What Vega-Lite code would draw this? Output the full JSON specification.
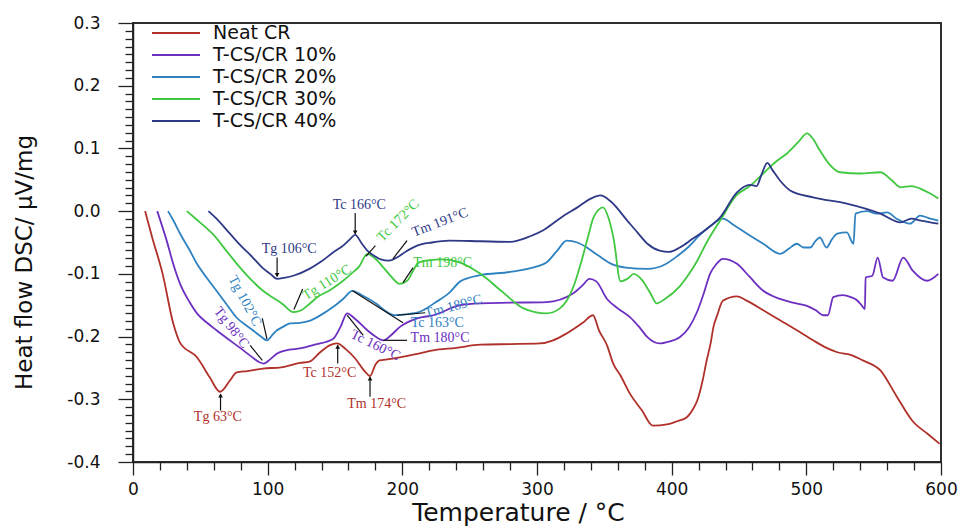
{
  "$schema": "https://vega.github.io/schema/vega-lite/v6.json",
  "width": 808,
  "height": 439,
  "autosize": {"type": "none"},
  "padding": {"left": 133, "top": 23, "right": 20, "bottom": 67},
  "background": "white",
  "config": {
    "view": {"stroke": "#222", "strokeWidth": 1.5},
    "axis": {"domainColor": "#222", "tickColor": "#222", "domainWidth": 1.5, "tickWidth": 1.3, "grid": false, "labelColor": "#111", "titleColor": "#111"}
  },
  "datasets": {
    "curves": [
      {"series": "Neat CR", "t": 9, "q": 0.0},
      {"series": "Neat CR", "t": 14, "q": -0.04},
      {"series": "Neat CR", "t": 22, "q": -0.10},
      {"series": "Neat CR", "t": 30, "q": -0.18},
      {"series": "Neat CR", "t": 35, "q": -0.21},
      {"series": "Neat CR", "t": 47.5, "q": -0.233},
      {"series": "Neat CR", "t": 57, "q": -0.265},
      {"series": "Neat CR", "t": 64.6, "q": -0.288},
      {"series": "Neat CR", "t": 72, "q": -0.27},
      {"series": "Neat CR", "t": 77, "q": -0.257},
      {"series": "Neat CR", "t": 85, "q": -0.255},
      {"series": "Neat CR", "t": 96.5, "q": -0.251},
      {"series": "Neat CR", "t": 110, "q": -0.249},
      {"series": "Neat CR", "t": 124, "q": -0.242},
      {"series": "Neat CR", "t": 131, "q": -0.240},
      {"series": "Neat CR", "t": 139, "q": -0.225},
      {"series": "Neat CR", "t": 146, "q": -0.214},
      {"series": "Neat CR", "t": 151.5, "q": -0.211},
      {"series": "Neat CR", "t": 158, "q": -0.22},
      {"series": "Neat CR", "t": 165, "q": -0.235},
      {"series": "Neat CR", "t": 172, "q": -0.255},
      {"series": "Neat CR", "t": 176, "q": -0.263},
      {"series": "Neat CR", "t": 180, "q": -0.245},
      {"series": "Neat CR", "t": 183, "q": -0.238},
      {"series": "Neat CR", "t": 190, "q": -0.236},
      {"series": "Neat CR", "t": 198, "q": -0.233},
      {"series": "Neat CR", "t": 210, "q": -0.228},
      {"series": "Neat CR", "t": 223, "q": -0.222},
      {"series": "Neat CR", "t": 240, "q": -0.218},
      {"series": "Neat CR", "t": 258, "q": -0.213},
      {"series": "Neat CR", "t": 280, "q": -0.212},
      {"series": "Neat CR", "t": 302, "q": -0.211},
      {"series": "Neat CR", "t": 312, "q": -0.206},
      {"series": "Neat CR", "t": 322, "q": -0.195},
      {"series": "Neat CR", "t": 334, "q": -0.178},
      {"series": "Neat CR", "t": 341.6, "q": -0.166},
      {"series": "Neat CR", "t": 346, "q": -0.19},
      {"series": "Neat CR", "t": 352, "q": -0.214},
      {"series": "Neat CR", "t": 356.6, "q": -0.243},
      {"series": "Neat CR", "t": 362, "q": -0.262},
      {"series": "Neat CR", "t": 369, "q": -0.291},
      {"series": "Neat CR", "t": 378, "q": -0.318},
      {"series": "Neat CR", "t": 386, "q": -0.342},
      {"series": "Neat CR", "t": 396.5, "q": -0.34},
      {"series": "Neat CR", "t": 404, "q": -0.335},
      {"series": "Neat CR", "t": 411, "q": -0.329},
      {"series": "Neat CR", "t": 416, "q": -0.315},
      {"series": "Neat CR", "t": 419, "q": -0.302},
      {"series": "Neat CR", "t": 423, "q": -0.27},
      {"series": "Neat CR", "t": 426, "q": -0.238},
      {"series": "Neat CR", "t": 429, "q": -0.21},
      {"series": "Neat CR", "t": 431, "q": -0.185},
      {"series": "Neat CR", "t": 434, "q": -0.165},
      {"series": "Neat CR", "t": 438, "q": -0.143},
      {"series": "Neat CR", "t": 448.5, "q": -0.136},
      {"series": "Neat CR", "t": 456, "q": -0.143},
      {"series": "Neat CR", "t": 468, "q": -0.158},
      {"series": "Neat CR", "t": 480.5, "q": -0.174},
      {"series": "Neat CR", "t": 493, "q": -0.19},
      {"series": "Neat CR", "t": 505, "q": -0.206},
      {"series": "Neat CR", "t": 515, "q": -0.218},
      {"series": "Neat CR", "t": 523, "q": -0.225},
      {"series": "Neat CR", "t": 534, "q": -0.23},
      {"series": "Neat CR", "t": 542, "q": -0.238},
      {"series": "Neat CR", "t": 555, "q": -0.254},
      {"series": "Neat CR", "t": 567, "q": -0.295},
      {"series": "Neat CR", "t": 579, "q": -0.335},
      {"series": "Neat CR", "t": 590, "q": -0.355},
      {"series": "Neat CR", "t": 599, "q": -0.371},

      {"series": "T-CS/CR 10%", "t": 18, "q": 0.0},
      {"series": "T-CS/CR 10%", "t": 25, "q": -0.047},
      {"series": "T-CS/CR 10%", "t": 30, "q": -0.085},
      {"series": "T-CS/CR 10%", "t": 35, "q": -0.116},
      {"series": "T-CS/CR 10%", "t": 42, "q": -0.145},
      {"series": "T-CS/CR 10%", "t": 47.5, "q": -0.163},
      {"series": "T-CS/CR 10%", "t": 55, "q": -0.178},
      {"series": "T-CS/CR 10%", "t": 62, "q": -0.19},
      {"series": "T-CS/CR 10%", "t": 70, "q": -0.203},
      {"series": "T-CS/CR 10%", "t": 79.5, "q": -0.218},
      {"series": "T-CS/CR 10%", "t": 88, "q": -0.232},
      {"series": "T-CS/CR 10%", "t": 94, "q": -0.241},
      {"series": "T-CS/CR 10%", "t": 97, "q": -0.243},
      {"series": "T-CS/CR 10%", "t": 102, "q": -0.236},
      {"series": "T-CS/CR 10%", "t": 107, "q": -0.227},
      {"series": "T-CS/CR 10%", "t": 116, "q": -0.221},
      {"series": "T-CS/CR 10%", "t": 124, "q": -0.219},
      {"series": "T-CS/CR 10%", "t": 135, "q": -0.213},
      {"series": "T-CS/CR 10%", "t": 148.5, "q": -0.204},
      {"series": "T-CS/CR 10%", "t": 154, "q": -0.185},
      {"series": "T-CS/CR 10%", "t": 159, "q": -0.163},
      {"series": "T-CS/CR 10%", "t": 165, "q": -0.172},
      {"series": "T-CS/CR 10%", "t": 174, "q": -0.19},
      {"series": "T-CS/CR 10%", "t": 180, "q": -0.2},
      {"series": "T-CS/CR 10%", "t": 186, "q": -0.206},
      {"series": "T-CS/CR 10%", "t": 192, "q": -0.197},
      {"series": "T-CS/CR 10%", "t": 198, "q": -0.185},
      {"series": "T-CS/CR 10%", "t": 211, "q": -0.171},
      {"series": "T-CS/CR 10%", "t": 223, "q": -0.166},
      {"series": "T-CS/CR 10%", "t": 243, "q": -0.150},
      {"series": "T-CS/CR 10%", "t": 258, "q": -0.147},
      {"series": "T-CS/CR 10%", "t": 280, "q": -0.146},
      {"series": "T-CS/CR 10%", "t": 307, "q": -0.145},
      {"series": "T-CS/CR 10%", "t": 327, "q": -0.131},
      {"series": "T-CS/CR 10%", "t": 334, "q": -0.118},
      {"series": "T-CS/CR 10%", "t": 339, "q": -0.108},
      {"series": "T-CS/CR 10%", "t": 344, "q": -0.112},
      {"series": "T-CS/CR 10%", "t": 352, "q": -0.14},
      {"series": "T-CS/CR 10%", "t": 360, "q": -0.155},
      {"series": "T-CS/CR 10%", "t": 369, "q": -0.169},
      {"series": "T-CS/CR 10%", "t": 376, "q": -0.185},
      {"series": "T-CS/CR 10%", "t": 382, "q": -0.201},
      {"series": "T-CS/CR 10%", "t": 391, "q": -0.211},
      {"series": "T-CS/CR 10%", "t": 398, "q": -0.208},
      {"series": "T-CS/CR 10%", "t": 406, "q": -0.201},
      {"series": "T-CS/CR 10%", "t": 413, "q": -0.185},
      {"series": "T-CS/CR 10%", "t": 419, "q": -0.16},
      {"series": "T-CS/CR 10%", "t": 424, "q": -0.13},
      {"series": "T-CS/CR 10%", "t": 428.5, "q": -0.1},
      {"series": "T-CS/CR 10%", "t": 433, "q": -0.085},
      {"series": "T-CS/CR 10%", "t": 438, "q": -0.076},
      {"series": "T-CS/CR 10%", "t": 448.5, "q": -0.084},
      {"series": "T-CS/CR 10%", "t": 458, "q": -0.105},
      {"series": "T-CS/CR 10%", "t": 468, "q": -0.127},
      {"series": "T-CS/CR 10%", "t": 480.5, "q": -0.14},
      {"series": "T-CS/CR 10%", "t": 490, "q": -0.146},
      {"series": "T-CS/CR 10%", "t": 500.5, "q": -0.151},
      {"series": "T-CS/CR 10%", "t": 507, "q": -0.158},
      {"series": "T-CS/CR 10%", "t": 512.5, "q": -0.166},
      {"series": "T-CS/CR 10%", "t": 516, "q": -0.166},
      {"series": "T-CS/CR 10%", "t": 520, "q": -0.137},
      {"series": "T-CS/CR 10%", "t": 527, "q": -0.134},
      {"series": "T-CS/CR 10%", "t": 533, "q": -0.137},
      {"series": "T-CS/CR 10%", "t": 537.6, "q": -0.142},
      {"series": "T-CS/CR 10%", "t": 541, "q": -0.15},
      {"series": "T-CS/CR 10%", "t": 543.5, "q": -0.156},
      {"series": "T-CS/CR 10%", "t": 544, "q": -0.106},
      {"series": "T-CS/CR 10%", "t": 549, "q": -0.103},
      {"series": "T-CS/CR 10%", "t": 553, "q": -0.074},
      {"series": "T-CS/CR 10%", "t": 557, "q": -0.106},
      {"series": "T-CS/CR 10%", "t": 564, "q": -0.111},
      {"series": "T-CS/CR 10%", "t": 572, "q": -0.074},
      {"series": "T-CS/CR 10%", "t": 579, "q": -0.095},
      {"series": "T-CS/CR 10%", "t": 589.6, "q": -0.111},
      {"series": "T-CS/CR 10%", "t": 598, "q": -0.1},

      {"series": "T-CS/CR 20%", "t": 26, "q": 0.0},
      {"series": "T-CS/CR 20%", "t": 30, "q": -0.015},
      {"series": "T-CS/CR 20%", "t": 35, "q": -0.036},
      {"series": "T-CS/CR 20%", "t": 42, "q": -0.062},
      {"series": "T-CS/CR 20%", "t": 47.5, "q": -0.084},
      {"series": "T-CS/CR 20%", "t": 55, "q": -0.107},
      {"series": "T-CS/CR 20%", "t": 62, "q": -0.127},
      {"series": "T-CS/CR 20%", "t": 70, "q": -0.15},
      {"series": "T-CS/CR 20%", "t": 77, "q": -0.17},
      {"series": "T-CS/CR 20%", "t": 84, "q": -0.182},
      {"series": "T-CS/CR 20%", "t": 89, "q": -0.19},
      {"series": "T-CS/CR 20%", "t": 95, "q": -0.2},
      {"series": "T-CS/CR 20%", "t": 99.5, "q": -0.206},
      {"series": "T-CS/CR 20%", "t": 104, "q": -0.196},
      {"series": "T-CS/CR 20%", "t": 107, "q": -0.19},
      {"series": "T-CS/CR 20%", "t": 111, "q": -0.185},
      {"series": "T-CS/CR 20%", "t": 116.6, "q": -0.179},
      {"series": "T-CS/CR 20%", "t": 124, "q": -0.178},
      {"series": "T-CS/CR 20%", "t": 131, "q": -0.175},
      {"series": "T-CS/CR 20%", "t": 140, "q": -0.165},
      {"series": "T-CS/CR 20%", "t": 148.5, "q": -0.153},
      {"series": "T-CS/CR 20%", "t": 156, "q": -0.14},
      {"series": "T-CS/CR 20%", "t": 163, "q": -0.127},
      {"series": "T-CS/CR 20%", "t": 170, "q": -0.134},
      {"series": "T-CS/CR 20%", "t": 181, "q": -0.148},
      {"series": "T-CS/CR 20%", "t": 188, "q": -0.16},
      {"series": "T-CS/CR 20%", "t": 194, "q": -0.166},
      {"series": "T-CS/CR 20%", "t": 200, "q": -0.165},
      {"series": "T-CS/CR 20%", "t": 211, "q": -0.162},
      {"series": "T-CS/CR 20%", "t": 225, "q": -0.145},
      {"series": "T-CS/CR 20%", "t": 235, "q": -0.13},
      {"series": "T-CS/CR 20%", "t": 243, "q": -0.112},
      {"series": "T-CS/CR 20%", "t": 258, "q": -0.102},
      {"series": "T-CS/CR 20%", "t": 280, "q": -0.097},
      {"series": "T-CS/CR 20%", "t": 300, "q": -0.088},
      {"series": "T-CS/CR 20%", "t": 307, "q": -0.082},
      {"series": "T-CS/CR 20%", "t": 315, "q": -0.063},
      {"series": "T-CS/CR 20%", "t": 322, "q": -0.047},
      {"series": "T-CS/CR 20%", "t": 330, "q": -0.05},
      {"series": "T-CS/CR 20%", "t": 337, "q": -0.058},
      {"series": "T-CS/CR 20%", "t": 345, "q": -0.07},
      {"series": "T-CS/CR 20%", "t": 356, "q": -0.085},
      {"series": "T-CS/CR 20%", "t": 366, "q": -0.09},
      {"series": "T-CS/CR 20%", "t": 382, "q": -0.092},
      {"series": "T-CS/CR 20%", "t": 395, "q": -0.085},
      {"series": "T-CS/CR 20%", "t": 404, "q": -0.072},
      {"series": "T-CS/CR 20%", "t": 413, "q": -0.056},
      {"series": "T-CS/CR 20%", "t": 420, "q": -0.04},
      {"series": "T-CS/CR 20%", "t": 428, "q": -0.025},
      {"series": "T-CS/CR 20%", "t": 438, "q": -0.012},
      {"series": "T-CS/CR 20%", "t": 446, "q": -0.022},
      {"series": "T-CS/CR 20%", "t": 456, "q": -0.036},
      {"series": "T-CS/CR 20%", "t": 468, "q": -0.052},
      {"series": "T-CS/CR 20%", "t": 480.5, "q": -0.068},
      {"series": "T-CS/CR 20%", "t": 487, "q": -0.06},
      {"series": "T-CS/CR 20%", "t": 493, "q": -0.052},
      {"series": "T-CS/CR 20%", "t": 498, "q": -0.058},
      {"series": "T-CS/CR 20%", "t": 503, "q": -0.058},
      {"series": "T-CS/CR 20%", "t": 507, "q": -0.047},
      {"series": "T-CS/CR 20%", "t": 510, "q": -0.042},
      {"series": "T-CS/CR 20%", "t": 515, "q": -0.058},
      {"series": "T-CS/CR 20%", "t": 519, "q": -0.045},
      {"series": "T-CS/CR 20%", "t": 523, "q": -0.036},
      {"series": "T-CS/CR 20%", "t": 530, "q": -0.034},
      {"series": "T-CS/CR 20%", "t": 535, "q": -0.052},
      {"series": "T-CS/CR 20%", "t": 536.5, "q": -0.004},
      {"series": "T-CS/CR 20%", "t": 545, "q": 0.0},
      {"series": "T-CS/CR 20%", "t": 552, "q": -0.004},
      {"series": "T-CS/CR 20%", "t": 560, "q": -0.002},
      {"series": "T-CS/CR 20%", "t": 567, "q": -0.012},
      {"series": "T-CS/CR 20%", "t": 577, "q": -0.02},
      {"series": "T-CS/CR 20%", "t": 584.5, "q": -0.007},
      {"series": "T-CS/CR 20%", "t": 592, "q": -0.012},
      {"series": "T-CS/CR 20%", "t": 598, "q": -0.015},

      {"series": "T-CS/CR 30%", "t": 40, "q": 0.0},
      {"series": "T-CS/CR 30%", "t": 47, "q": -0.013},
      {"series": "T-CS/CR 30%", "t": 53, "q": -0.024},
      {"series": "T-CS/CR 30%", "t": 59, "q": -0.036},
      {"series": "T-CS/CR 30%", "t": 70, "q": -0.065},
      {"series": "T-CS/CR 30%", "t": 79.5, "q": -0.09},
      {"series": "T-CS/CR 30%", "t": 88, "q": -0.11},
      {"series": "T-CS/CR 30%", "t": 96.5, "q": -0.127},
      {"series": "T-CS/CR 30%", "t": 104, "q": -0.138},
      {"series": "T-CS/CR 30%", "t": 111, "q": -0.148},
      {"series": "T-CS/CR 30%", "t": 119, "q": -0.161},
      {"series": "T-CS/CR 30%", "t": 125, "q": -0.158},
      {"series": "T-CS/CR 30%", "t": 131, "q": -0.148},
      {"series": "T-CS/CR 30%", "t": 137, "q": -0.137},
      {"series": "T-CS/CR 30%", "t": 147, "q": -0.125},
      {"series": "T-CS/CR 30%", "t": 156, "q": -0.111},
      {"series": "T-CS/CR 30%", "t": 162, "q": -0.1},
      {"series": "T-CS/CR 30%", "t": 168, "q": -0.088},
      {"series": "T-CS/CR 30%", "t": 174, "q": -0.068},
      {"series": "T-CS/CR 30%", "t": 180, "q": -0.076},
      {"series": "T-CS/CR 30%", "t": 186, "q": -0.09},
      {"series": "T-CS/CR 30%", "t": 192, "q": -0.105},
      {"series": "T-CS/CR 30%", "t": 198, "q": -0.116},
      {"series": "T-CS/CR 30%", "t": 204, "q": -0.11},
      {"series": "T-CS/CR 30%", "t": 208, "q": -0.095},
      {"series": "T-CS/CR 30%", "t": 212, "q": -0.082},
      {"series": "T-CS/CR 30%", "t": 220, "q": -0.078},
      {"series": "T-CS/CR 30%", "t": 230, "q": -0.077},
      {"series": "T-CS/CR 30%", "t": 243, "q": -0.082},
      {"series": "T-CS/CR 30%", "t": 258, "q": -0.1},
      {"series": "T-CS/CR 30%", "t": 275, "q": -0.13},
      {"series": "T-CS/CR 30%", "t": 290, "q": -0.155},
      {"series": "T-CS/CR 30%", "t": 307, "q": -0.163},
      {"series": "T-CS/CR 30%", "t": 317, "q": -0.155},
      {"series": "T-CS/CR 30%", "t": 322, "q": -0.143},
      {"series": "T-CS/CR 30%", "t": 328, "q": -0.115},
      {"series": "T-CS/CR 30%", "t": 333, "q": -0.08},
      {"series": "T-CS/CR 30%", "t": 338, "q": -0.04},
      {"series": "T-CS/CR 30%", "t": 342, "q": -0.01},
      {"series": "T-CS/CR 30%", "t": 349, "q": 0.006},
      {"series": "T-CS/CR 30%", "t": 353, "q": -0.01},
      {"series": "T-CS/CR 30%", "t": 357, "q": -0.045},
      {"series": "T-CS/CR 30%", "t": 362, "q": -0.112},
      {"series": "T-CS/CR 30%", "t": 367, "q": -0.108},
      {"series": "T-CS/CR 30%", "t": 372, "q": -0.1},
      {"series": "T-CS/CR 30%", "t": 378, "q": -0.11},
      {"series": "T-CS/CR 30%", "t": 384, "q": -0.13},
      {"series": "T-CS/CR 30%", "t": 389, "q": -0.147},
      {"series": "T-CS/CR 30%", "t": 395, "q": -0.14},
      {"series": "T-CS/CR 30%", "t": 406, "q": -0.12},
      {"series": "T-CS/CR 30%", "t": 413, "q": -0.1},
      {"series": "T-CS/CR 30%", "t": 419, "q": -0.079},
      {"series": "T-CS/CR 30%", "t": 426, "q": -0.05},
      {"series": "T-CS/CR 30%", "t": 436, "q": -0.015},
      {"series": "T-CS/CR 30%", "t": 448, "q": 0.025},
      {"series": "T-CS/CR 30%", "t": 458, "q": 0.04},
      {"series": "T-CS/CR 30%", "t": 468, "q": 0.06},
      {"series": "T-CS/CR 30%", "t": 478, "q": 0.08},
      {"series": "T-CS/CR 30%", "t": 485.6, "q": 0.092},
      {"series": "T-CS/CR 30%", "t": 494, "q": 0.11},
      {"series": "T-CS/CR 30%", "t": 500.5, "q": 0.124},
      {"series": "T-CS/CR 30%", "t": 505, "q": 0.115},
      {"series": "T-CS/CR 30%", "t": 510, "q": 0.097},
      {"series": "T-CS/CR 30%", "t": 517, "q": 0.075},
      {"series": "T-CS/CR 30%", "t": 525, "q": 0.062},
      {"series": "T-CS/CR 30%", "t": 540, "q": 0.06},
      {"series": "T-CS/CR 30%", "t": 555, "q": 0.062},
      {"series": "T-CS/CR 30%", "t": 563, "q": 0.05},
      {"series": "T-CS/CR 30%", "t": 570, "q": 0.038},
      {"series": "T-CS/CR 30%", "t": 578, "q": 0.04},
      {"series": "T-CS/CR 30%", "t": 584.5, "q": 0.036},
      {"series": "T-CS/CR 30%", "t": 592, "q": 0.028},
      {"series": "T-CS/CR 30%", "t": 598, "q": 0.02},

      {"series": "T-CS/CR 40%", "t": 56, "q": 0.0},
      {"series": "T-CS/CR 40%", "t": 62, "q": -0.012},
      {"series": "T-CS/CR 40%", "t": 72, "q": -0.036},
      {"series": "T-CS/CR 40%", "t": 80, "q": -0.055},
      {"series": "T-CS/CR 40%", "t": 89, "q": -0.074},
      {"series": "T-CS/CR 40%", "t": 96, "q": -0.09},
      {"series": "T-CS/CR 40%", "t": 102, "q": -0.1},
      {"series": "T-CS/CR 40%", "t": 107, "q": -0.108},
      {"series": "T-CS/CR 40%", "t": 113, "q": -0.106},
      {"series": "T-CS/CR 40%", "t": 119, "q": -0.103},
      {"series": "T-CS/CR 40%", "t": 131, "q": -0.092},
      {"series": "T-CS/CR 40%", "t": 140, "q": -0.08},
      {"series": "T-CS/CR 40%", "t": 148.5, "q": -0.066},
      {"series": "T-CS/CR 40%", "t": 156, "q": -0.055},
      {"series": "T-CS/CR 40%", "t": 161, "q": -0.045},
      {"series": "T-CS/CR 40%", "t": 165, "q": -0.038},
      {"series": "T-CS/CR 40%", "t": 170, "q": -0.052},
      {"series": "T-CS/CR 40%", "t": 174, "q": -0.063},
      {"series": "T-CS/CR 40%", "t": 179, "q": -0.071},
      {"series": "T-CS/CR 40%", "t": 184, "q": -0.077},
      {"series": "T-CS/CR 40%", "t": 190, "q": -0.079},
      {"series": "T-CS/CR 40%", "t": 196, "q": -0.074},
      {"series": "T-CS/CR 40%", "t": 203, "q": -0.064},
      {"series": "T-CS/CR 40%", "t": 211, "q": -0.055},
      {"series": "T-CS/CR 40%", "t": 222, "q": -0.05},
      {"series": "T-CS/CR 40%", "t": 235, "q": -0.047},
      {"series": "T-CS/CR 40%", "t": 258, "q": -0.048},
      {"series": "T-CS/CR 40%", "t": 280, "q": -0.049},
      {"series": "T-CS/CR 40%", "t": 295, "q": -0.04},
      {"series": "T-CS/CR 40%", "t": 305, "q": -0.03},
      {"series": "T-CS/CR 40%", "t": 318, "q": -0.01},
      {"series": "T-CS/CR 40%", "t": 330, "q": 0.006},
      {"series": "T-CS/CR 40%", "t": 340, "q": 0.02},
      {"series": "T-CS/CR 40%", "t": 347, "q": 0.025},
      {"series": "T-CS/CR 40%", "t": 355, "q": 0.015},
      {"series": "T-CS/CR 40%", "t": 367, "q": -0.015},
      {"series": "T-CS/CR 40%", "t": 375, "q": -0.035},
      {"series": "T-CS/CR 40%", "t": 382, "q": -0.052},
      {"series": "T-CS/CR 40%", "t": 391, "q": -0.063},
      {"series": "T-CS/CR 40%", "t": 398, "q": -0.065},
      {"series": "T-CS/CR 40%", "t": 406, "q": -0.058},
      {"series": "T-CS/CR 40%", "t": 415, "q": -0.045},
      {"series": "T-CS/CR 40%", "t": 425, "q": -0.03},
      {"series": "T-CS/CR 40%", "t": 436, "q": -0.01},
      {"series": "T-CS/CR 40%", "t": 448.5, "q": 0.03},
      {"series": "T-CS/CR 40%", "t": 458, "q": 0.042},
      {"series": "T-CS/CR 40%", "t": 463, "q": 0.04},
      {"series": "T-CS/CR 40%", "t": 467, "q": 0.06},
      {"series": "T-CS/CR 40%", "t": 471, "q": 0.077},
      {"series": "T-CS/CR 40%", "t": 475, "q": 0.065},
      {"series": "T-CS/CR 40%", "t": 480, "q": 0.05},
      {"series": "T-CS/CR 40%", "t": 488, "q": 0.033},
      {"series": "T-CS/CR 40%", "t": 505, "q": 0.022},
      {"series": "T-CS/CR 40%", "t": 530, "q": 0.012},
      {"series": "T-CS/CR 40%", "t": 555, "q": -0.004},
      {"series": "T-CS/CR 40%", "t": 570, "q": -0.018},
      {"series": "T-CS/CR 40%", "t": 578, "q": -0.012},
      {"series": "T-CS/CR 40%", "t": 585, "q": -0.015},
      {"series": "T-CS/CR 40%", "t": 598, "q": -0.02}
    ],
    "notes": [
      {"label": "Tg 63°C", "series": "Neat CR", "t": 63, "q": -0.329},
      {"label": "Tc 152°C", "series": "Neat CR", "t": 146, "q": -0.258},
      {"label": "Tm 174°C", "series": "Neat CR", "t": 181, "q": -0.308},
      {"label": "Tg 98°C", "series": "T-CS/CR 10%", "t": 73, "q": -0.186},
      {"label": "Tc 160°C", "series": "T-CS/CR 10%", "t": 180, "q": -0.214},
      {"label": "Tm 180°C", "series": "T-CS/CR 10%", "t": 228, "q": -0.203},
      {"label": "Tg 102°C", "series": "T-CS/CR 20%", "t": 83, "q": -0.143},
      {"label": "Tc 163°C", "series": "T-CS/CR 20%", "t": 226, "q": -0.179},
      {"label": "Tm 189°C", "series": "T-CS/CR 20%", "t": 238, "q": -0.152},
      {"label": "Tg 110°C", "series": "T-CS/CR 30%", "t": 144, "q": -0.114},
      {"label": "Tc 172°C", "series": "T-CS/CR 30%", "t": 197, "q": -0.015},
      {"label": "Tm 198°C", "series": "T-CS/CR 30%", "t": 230, "q": -0.082},
      {"label": "Tg 106°C", "series": "T-CS/CR 40%", "t": 116, "q": -0.061},
      {"label": "Tc 166°C", "series": "T-CS/CR 40%", "t": 168, "q": 0.01},
      {"label": "Tm 191°C", "series": "T-CS/CR 40%", "t": 228, "q": -0.018}
    ],
    "arrows": [
      {"label": "Tg 63°C", "t": 65, "q": -0.318, "t2": 65, "q2": -0.292},
      {"label": "Tc 152°C", "t": 152, "q": -0.243, "t2": 152, "q2": -0.214},
      {"label": "Tm 174°C", "t": 176, "q": -0.296, "t2": 176, "q2": -0.265},
      {"label": "Tg 106°C", "t": 107, "q": -0.074, "t2": 107, "q2": -0.104},
      {"label": "Tc 166°C", "t": 165, "q": -0.003, "t2": 165, "q2": -0.036},
      {"label": "Tg 98°C", "t": 87, "q": -0.214, "t2": 96, "q2": -0.238},
      {"label": "Tg 102°C", "t": 96, "q": -0.171, "t2": 99.5, "q2": -0.204},
      {"label": "Tg 110°C", "t": 126, "q": -0.124, "t2": 119.5, "q2": -0.157},
      {"label": "Tc 172°C", "t": 180, "q": -0.055, "t2": 173, "q2": -0.072},
      {"label": "Tm 191°C", "t": 203.5, "q": -0.047, "t2": 193, "q2": -0.076},
      {"label": "Tm 198°C", "t": 208, "q": -0.09, "t2": 200.5, "q2": -0.114},
      {"label": "Tc 163°C", "t": 200.5, "q": -0.178, "t2": 163, "q2": -0.127},
      {"label": "Tm 189°C", "t": 217, "q": -0.162, "t2": 196, "q2": -0.166},
      {"label": "Tc 160°C", "t": 171, "q": -0.198, "t2": 159, "q2": -0.166},
      {"label": "Tm 180°C", "t": 203.5, "q": -0.206, "t2": 186, "q2": -0.206}
    ],
    "headsUp": [
      {"label": "Tg 63°C", "t": 65, "q": -0.294},
      {"label": "Tc 152°C", "t": 152, "q": -0.216},
      {"label": "Tm 174°C", "t": 176, "q": -0.267}
    ],
    "headsDown": [
      {"label": "Tg 106°C", "t": 107, "q": -0.102},
      {"label": "Tc 166°C", "t": 165, "q": -0.034}
    ],
    "frame": [
      {"t0": 0, "t1": 600, "q0": -0.4, "q1": 0.3}
    ]
  },
  "layer": [
    {
      "data": {"name": "frame"},
      "mark": {"type": "rect", "fill": "transparent", "stroke": "#222", "strokeWidth": 1.5},
      "encoding": {
        "x": {"field": "t0", "type": "quantitative", "axis": null},
        "x2": {"field": "t1"},
        "y": {"field": "q0", "type": "quantitative", "axis": null},
        "y2": {"field": "q1"}
      }
    },
    {
      "data": {"name": "curves"},
      "mark": {"type": "line", "strokeWidth": 1.8, "interpolate": "monotone"},
      "encoding": {
        "x": {
          "field": "t", "type": "quantitative",
          "scale": {"domain": [0, 600], "nice": false, "zero": false},
          "axis": {
            "orient": "bottom", "values": [0, 100, 200, 300, 400, 500, 600], "format": "d",
            "tickSize": 13, "labelPadding": 6, "labelFont": "DejaVu Sans", "labelFontSize": 17,
            "labelFlush": false, "labelOverlap": false,
            "title": "Temperature / °C", "titleFont": "DejaVu Sans", "titleFontSize": 25,
            "titleFontWeight": "normal", "titlePadding": 3, "titleX": 385
          }
        },
        "y": {
          "field": "q", "type": "quantitative",
          "scale": {"domain": [-0.4, 0.3], "nice": false, "zero": false},
          "axis": {
            "orient": "left", "values": [-0.4, -0.3, -0.2, -0.1, 0, 0.1, 0.2, 0.3], "format": ".1f",
            "labelExpr": "replace(datum.label, '−', '-')",
            "tickSize": 15, "labelPadding": 18, "labelFont": "DejaVu Sans", "labelFontSize": 17,
            "labelFlush": false, "labelOverlap": false,
            "title": "Heat flow DSC/ μV/mg", "titleFont": "DejaVu Sans", "titleFontSize": 23,
            "titleFontWeight": "normal", "titlePadding": 30, "titleY": 239
          }
        },
        "color": {
          "field": "series", "type": "nominal",
          "scale": {
            "domain": ["Neat CR", "T-CS/CR 10%", "T-CS/CR 20%", "T-CS/CR 30%", "T-CS/CR 40%"],
            "range": ["#b0302a", "#6c2fc0", "#2f82c0", "#40c840", "#2e3a87"]
          },
          "legend": {
            "title": null, "orient": "none", "legendX": 18, "legendY": -1,
            "symbolType": "stroke", "symbolSize": 2304, "symbolStrokeWidth": 2,
            "labelFont": "DejaVu Sans", "labelFontSize": 19, "labelColor": "#111",
            "labelOffset": 12, "clipHeight": 22, "rowPadding": 0, "padding": 0, "labelLimit": 300
          }
        }
      }
    },
    {
      "data": {"name": "arrows"},
      "mark": {"type": "rule", "color": "#111", "strokeWidth": 1.2},
      "encoding": {
        "x": {
          "field": "t", "type": "quantitative",
          "axis": {
            "orient": "bottom",
            "values": [20, 40, 60, 80, 120, 140, 160, 180, 220, 240, 260, 280, 320, 340, 360, 380, 420, 440, 460, 480, 520, 540, 560, 580],
            "labels": false, "domain": false, "tickSize": 8, "title": null
          }
        },
        "y": {
          "field": "q", "type": "quantitative",
          "axis": {
            "orient": "left",
            "values": [-0.3875, -0.375, -0.3625, -0.35, -0.3375, -0.325, -0.3125, -0.2875, -0.275, -0.2625, -0.25, -0.2375, -0.225, -0.2125, -0.1875, -0.175, -0.1625, -0.15, -0.1375, -0.125, -0.1125, -0.0875, -0.075, -0.0625, -0.05, -0.0375, -0.025, -0.0125, 0.0125, 0.025, 0.0375, 0.05, 0.0625, 0.075, 0.0875, 0.1125, 0.125, 0.1375, 0.15, 0.1625, 0.175, 0.1875, 0.2125, 0.225, 0.2375, 0.25, 0.2625, 0.275, 0.2875],
            "labels": false, "domain": false, "tickSize": 8, "title": null
          }
        },
        "x2": {"field": "t2"},
        "y2": {"field": "q2"}
      }
    },
    {
      "data": {"name": "headsUp"},
      "mark": {"type": "point", "shape": "triangle-up", "filled": true, "color": "#111", "size": 22, "opacity": 1},
      "encoding": {
        "x": {"field": "t", "type": "quantitative", "axis": null},
        "y": {"field": "q", "type": "quantitative", "axis": null}
      }
    },
    {
      "data": {"name": "headsDown"},
      "mark": {"type": "point", "shape": "triangle-down", "filled": true, "color": "#111", "size": 22, "opacity": 1},
      "encoding": {
        "x": {"field": "t", "type": "quantitative", "axis": null},
        "y": {"field": "q", "type": "quantitative", "axis": null}
      }
    },
    {
      "data": {"name": "notes"},
      "transform": [{"filter": {"field": "label", "oneOf": ["Tg 63°C", "Tc 152°C", "Tm 174°C", "Tm 180°C", "Tc 163°C", "Tm 198°C", "Tg 106°C", "Tc 166°C"]}}],
      "mark": {"type": "text", "font": "Liberation Serif", "fontSize": 14, "baseline": "middle", "align": "center"},
      "encoding": {
        "x": {"field": "t", "type": "quantitative", "axis": null},
        "y": {"field": "q", "type": "quantitative", "axis": null},
        "text": {"field": "label"},
        "color": {"field": "series", "type": "nominal", "legend": null}
      }
    },
    {
      "data": {"name": "notes"},
      "transform": [{"filter": {"field": "label", "equal": "Tg 98°C"}}],
      "mark": {"type": "text", "font": "Liberation Serif", "fontSize": 14, "baseline": "middle", "align": "center", "angle": 52},
      "encoding": {
        "x": {"field": "t", "type": "quantitative", "axis": null},
        "y": {"field": "q", "type": "quantitative", "axis": null},
        "text": {"field": "label"},
        "color": {"field": "series", "type": "nominal", "legend": null}
      }
    },
    {
      "data": {"name": "notes"},
      "transform": [{"filter": {"field": "label", "equal": "Tc 160°C"}}],
      "mark": {"type": "text", "font": "Liberation Serif", "fontSize": 14, "baseline": "middle", "align": "center", "angle": 26},
      "encoding": {
        "x": {"field": "t", "type": "quantitative", "axis": null},
        "y": {"field": "q", "type": "quantitative", "axis": null},
        "text": {"field": "label"},
        "color": {"field": "series", "type": "nominal", "legend": null}
      }
    },
    {
      "data": {"name": "notes"},
      "transform": [{"filter": {"field": "label", "equal": "Tg 102°C"}}],
      "mark": {"type": "text", "font": "Liberation Serif", "fontSize": 14, "baseline": "middle", "align": "center", "angle": 62},
      "encoding": {
        "x": {"field": "t", "type": "quantitative", "axis": null},
        "y": {"field": "q", "type": "quantitative", "axis": null},
        "text": {"field": "label"},
        "color": {"field": "series", "type": "nominal", "legend": null}
      }
    },
    {
      "data": {"name": "notes"},
      "transform": [{"filter": {"field": "label", "equal": "Tm 189°C"}}],
      "mark": {"type": "text", "font": "Liberation Serif", "fontSize": 14, "baseline": "middle", "align": "center", "angle": -15},
      "encoding": {
        "x": {"field": "t", "type": "quantitative", "axis": null},
        "y": {"field": "q", "type": "quantitative", "axis": null},
        "text": {"field": "label"},
        "color": {"field": "series", "type": "nominal", "legend": null}
      }
    },
    {
      "data": {"name": "notes"},
      "transform": [{"filter": {"field": "label", "equal": "Tg 110°C"}}],
      "mark": {"type": "text", "font": "Liberation Serif", "fontSize": 14, "baseline": "middle", "align": "center", "angle": -32},
      "encoding": {
        "x": {"field": "t", "type": "quantitative", "axis": null},
        "y": {"field": "q", "type": "quantitative", "axis": null},
        "text": {"field": "label"},
        "color": {"field": "series", "type": "nominal", "legend": null}
      }
    },
    {
      "data": {"name": "notes"},
      "transform": [{"filter": {"field": "label", "equal": "Tc 172°C"}}],
      "mark": {"type": "text", "font": "Liberation Serif", "fontSize": 14, "baseline": "middle", "align": "center", "angle": -45},
      "encoding": {
        "x": {"field": "t", "type": "quantitative", "axis": null},
        "y": {"field": "q", "type": "quantitative", "axis": null},
        "text": {"field": "label"},
        "color": {"field": "series", "type": "nominal", "legend": null}
      }
    },
    {
      "data": {"name": "notes"},
      "transform": [{"filter": {"field": "label", "equal": "Tm 191°C"}}],
      "mark": {"type": "text", "font": "Liberation Serif", "fontSize": 14, "baseline": "middle", "align": "center", "angle": -21},
      "encoding": {
        "x": {"field": "t", "type": "quantitative", "axis": null},
        "y": {"field": "q", "type": "quantitative", "axis": null},
        "text": {"field": "label"},
        "color": {"field": "series", "type": "nominal", "legend": null}
      }
    }
  ],
  "resolve": {"axis": {"x": "independent", "y": "independent"}}
}
